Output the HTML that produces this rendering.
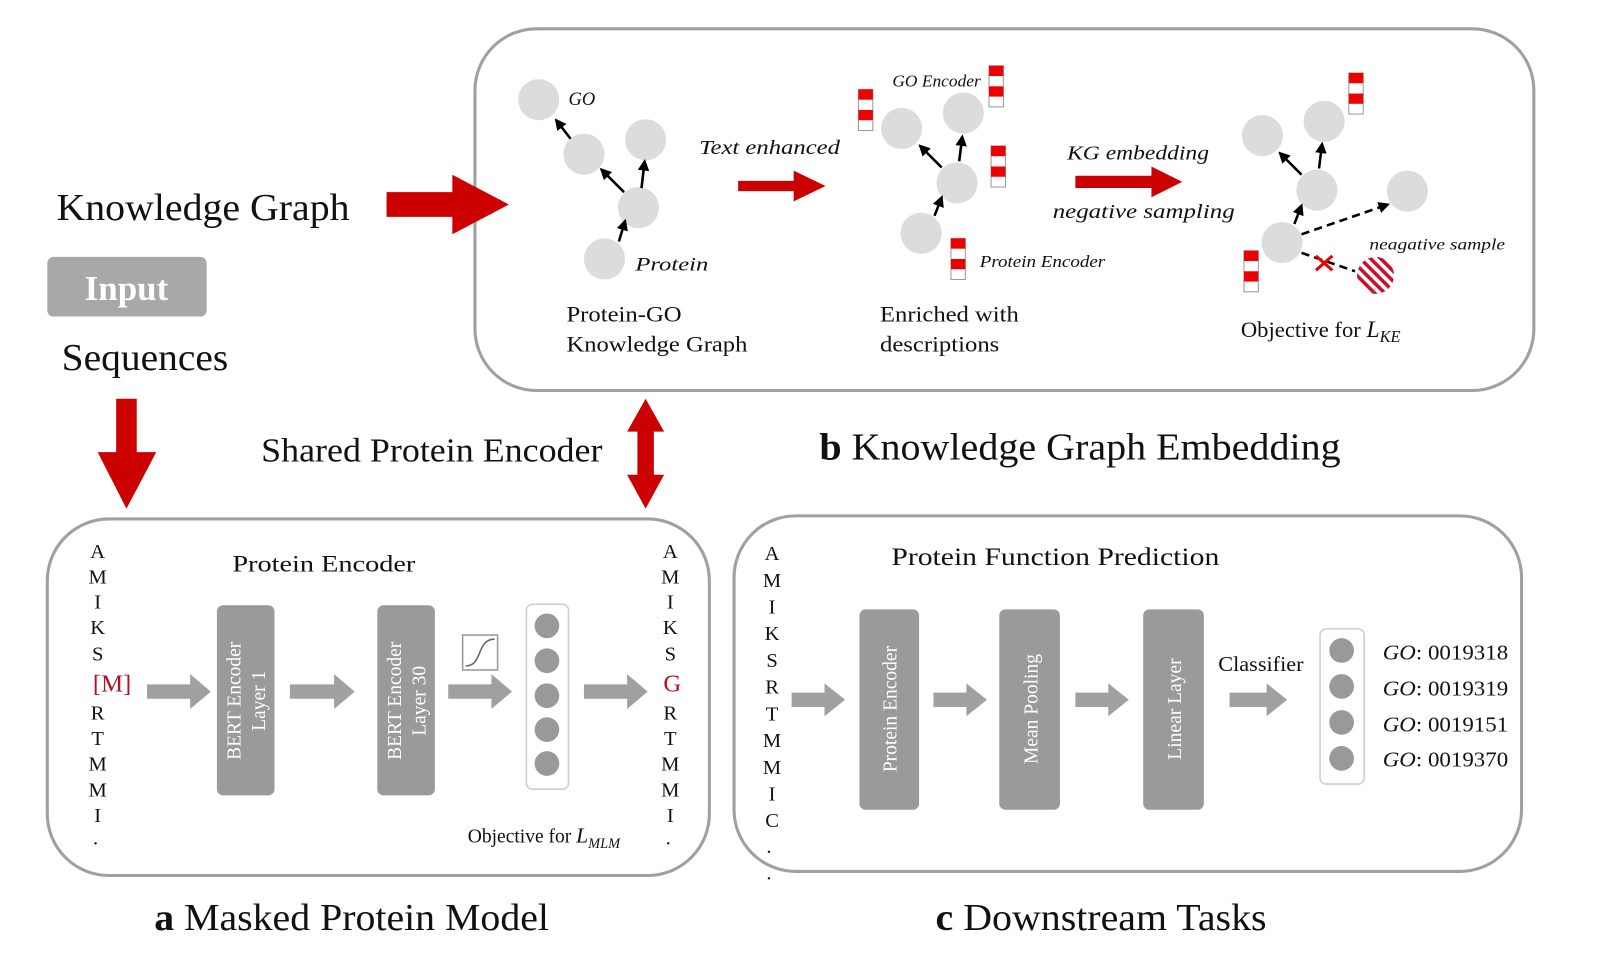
<!DOCTYPE html>
<html><head><meta charset="utf-8"><style>
html,body{margin:0;padding:0;background:#fff;width:1612px;height:968px;overflow:hidden}
svg{display:block}
text{font-family:"Liberation Serif",serif;fill:#111}
.it{font-style:italic}
.seq{font-size:20px;text-anchor:middle}
.w{fill:#fff;font-size:19px;text-anchor:middle}
</style></head><body>
<svg width="1612" height="968" viewBox="0 0 1568 942" preserveAspectRatio="none" xmlns="http://www.w3.org/2000/svg">
<defs>
<marker id="ah" viewBox="0 0 10 10" refX="8" refY="5" markerWidth="4.5" markerHeight="4.5" orient="auto"><path d="M0,0L10,5L0,10z" fill="#000"/></marker>
<pattern id="hatch" width="7" height="7" patternUnits="userSpaceOnUse" patternTransform="rotate(-45)"><rect width="7" height="7" fill="#fff"/><rect width="3.5" height="7" fill="#c8102e"/></pattern>
<g id="bar"><rect x="0" y="0" width="14" height="40" fill="#fff" stroke="#999" stroke-width="1"/><rect x="0" y="0" width="14" height="10" fill="#e00"/><rect x="0" y="20" width="14" height="10" fill="#e00"/></g>
</defs>

<rect x="462" y="28" width="1030" height="352" rx="60" fill="#fff" stroke="#a0a0a0" stroke-width="3"/>
<rect x="46" y="505" width="644" height="347" rx="60" fill="#fff" stroke="#a0a0a0" stroke-width="3"/>
<rect x="714" y="502" width="766" height="346" rx="60" fill="#fff" stroke="#a0a0a0" stroke-width="3"/>

<text x="55" y="214" font-size="37" textLength="285" lengthAdjust="spacingAndGlyphs">Knowledge Graph</text>
<path d="M376,187H440V170L495,199L440,228V211H376z" fill="#c00"/>
<rect x="46" y="250" width="155" height="58" rx="6" fill="#a8a8a8"/>
<text x="123" y="292" font-size="34" font-weight="bold" text-anchor="middle" style="fill:#fff">Input</text>
<text x="60" y="360" font-size="37" textLength="162" lengthAdjust="spacingAndGlyphs">Sequences</text>
<path d="M113,388H133V440H152L123,495L95,440H113z" fill="#c00"/>
<text x="254" y="449" font-size="33" textLength="332" lengthAdjust="spacingAndGlyphs">Shared Protein Encoder</text>
<path d="M628,388L646,420H636V462H646L628,495L610,462H620V420H610z" fill="#c00"/>
<text x="797" y="447" font-size="37" textLength="507" lengthAdjust="spacingAndGlyphs"><tspan font-weight="bold">b</tspan> Knowledge Graph Embedding</text>
<text x="150" y="905" font-size="37" textLength="384" lengthAdjust="spacingAndGlyphs"><tspan font-weight="bold">a</tspan> Masked Protein Model</text>
<text x="910" y="905" font-size="37" textLength="322" lengthAdjust="spacingAndGlyphs"><tspan font-weight="bold">c</tspan> Downstream Tasks</text>

<g fill="#dcdcdc">
<circle cx="524" cy="97" r="20"/><circle cx="568" cy="150" r="20"/><circle cx="628" cy="136" r="20"/><circle cx="621" cy="202" r="20"/><circle cx="588" cy="252" r="20"/>
</g>
<g stroke="#000" stroke-width="2.5" marker-end="url(#ah)">
<line x1="555" y1="135" x2="541" y2="117"/><line x1="607" y1="187" x2="585" y2="165"/><line x1="624" y1="183" x2="627" y2="157"/><line x1="602" y1="235" x2="608" y2="215"/>
</g>
<text x="553" y="102" font-size="18" class="it" textLength="26" lengthAdjust="spacingAndGlyphs">GO</text>
<text x="618" y="263" font-size="18" class="it" textLength="71" lengthAdjust="spacingAndGlyphs">Protein</text>
<text x="551" y="313" font-size="22" textLength="112" lengthAdjust="spacingAndGlyphs">Protein-GO</text>
<text x="551" y="342" font-size="22" textLength="176" lengthAdjust="spacingAndGlyphs">Knowledge Graph</text>
<text x="680" y="150" font-size="19" class="it" textLength="137" lengthAdjust="spacingAndGlyphs">Text enhanced</text>
<path d="M718,176H772V166L803,181L772,196V186H718z" fill="#c00"/>

<g fill="#dcdcdc">
<circle cx="877" cy="125" r="20"/><circle cx="937" cy="110" r="20"/><circle cx="931" cy="178" r="20"/><circle cx="896" cy="227" r="20"/>
</g>
<g stroke="#000" stroke-width="2.5" marker-end="url(#ah)">
<line x1="916" y1="163" x2="895" y2="142"/><line x1="933" y1="157" x2="936" y2="133"/><line x1="909" y1="210" x2="916" y2="192"/>
</g>
<use href="#bar" x="835" y="87"/><use href="#bar" x="962" y="64"/><use href="#bar" x="964" y="142"/><use href="#bar" x="925" y="232"/>
<text x="868" y="84" font-size="16" class="it" textLength="86" lengthAdjust="spacingAndGlyphs">GO Encoder</text>
<text x="953" y="260" font-size="16" class="it" textLength="122" lengthAdjust="spacingAndGlyphs">Protein Encoder</text>
<text x="856" y="313" font-size="22" textLength="135" lengthAdjust="spacingAndGlyphs">Enriched with</text>
<text x="856" y="342" font-size="22" textLength="116" lengthAdjust="spacingAndGlyphs">descriptions</text>
<text x="1038" y="155" font-size="19" class="it" textLength="138" lengthAdjust="spacingAndGlyphs">KG embedding</text>
<path d="M1046,171H1120V162L1150,177L1120,192V183H1046z" fill="#c00"/>
<text x="1024" y="212" font-size="19" class="it" textLength="177" lengthAdjust="spacingAndGlyphs">negative sampling</text>

<g fill="#dcdcdc">
<circle cx="1228" cy="132" r="20"/><circle cx="1288" cy="118" r="20"/><circle cx="1281" cy="185" r="20"/><circle cx="1247" cy="236" r="20"/><circle cx="1369" cy="186" r="20"/>
</g>
<g stroke="#000" stroke-width="2.5" marker-end="url(#ah)">
<line x1="1266" y1="170" x2="1245" y2="149"/><line x1="1283" y1="164" x2="1286" y2="140"/><line x1="1259" y1="218" x2="1266" y2="200"/>
</g>
<line x1="1266" y1="228" x2="1350" y2="199" stroke="#000" stroke-width="2.5" stroke-dasharray="8,5" marker-end="url(#ah)"/>
<line x1="1266" y1="246" x2="1318" y2="264" stroke="#000" stroke-width="2.5" stroke-dasharray="8,5"/>
<path d="M1280,249L1296,263M1296,249L1280,263" stroke="#e00" stroke-width="3"/>
<circle cx="1338" cy="268" r="18" fill="url(#hatch)"/>
<use href="#bar" x="1312" y="71"/><use href="#bar" x="1210" y="244"/>
<text x="1332" y="243" font-size="15" class="it" textLength="132" lengthAdjust="spacingAndGlyphs">neagative sample</text>
<text x="1207" y="328" font-size="22">Objective for <tspan class="it" font-size="23">L</tspan><tspan class="it" font-size="16" dy="5">KE</tspan></text>

<g class="seq">
<text x="95" y="543">A</text><text x="95" y="568">M</text><text x="95" y="592">I</text><text x="95" y="617">K</text><text x="95" y="643">S</text>
<text x="109" y="673" font-size="24" style="fill:#b01020">[M]</text>
<text x="95" y="700">R</text><text x="95" y="725">T</text><text x="95" y="750">M</text><text x="95" y="775">M</text><text x="95" y="800">I</text><text x="93" y="822">.</text>
<text x="652" y="543">A</text><text x="652" y="568">M</text><text x="652" y="592">I</text><text x="652" y="617">K</text><text x="652" y="643">S</text>
<text x="654" y="673" font-size="24" style="fill:#b01020">G</text>
<text x="652" y="700">R</text><text x="652" y="725">T</text><text x="652" y="750">M</text><text x="652" y="775">M</text><text x="652" y="800">I</text><text x="650" y="822">.</text>
</g>
<text x="226" y="556" font-size="23" textLength="178" lengthAdjust="spacingAndGlyphs">Protein Encoder</text>
<rect x="211" y="589" width="56" height="185" rx="6" fill="#9a9a9a"/>
<rect x="367" y="589" width="56" height="185" rx="6" fill="#9a9a9a"/>
<text transform="translate(234,682) rotate(-90)" class="w">BERT Encoder</text>
<text transform="translate(258,682) rotate(-90)" class="w">Layer 1</text>
<text transform="translate(390,682) rotate(-90)" class="w">BERT Encoder</text>
<text transform="translate(414,682) rotate(-90)" class="w">Layer 30</text>
<g fill="#a0a0a0">
<path d="M143,666H185V656L205,673L185,690V680H143z"/>
<path d="M282,666H325V656L345,673L325,690V680H282z"/>
<path d="M436,666H478V656L498,673L478,690V680H436z"/>
<path d="M568,666H610V656L630,673L610,690V680H568z"/>
<path d="M1046,674H1078V665L1098,681L1078,697V688H1046z"/>
<path d="M770,674H802V665L822,681L802,697V688H770z"/>
<path d="M908,674H940V665L960,681L940,697V688H908z"/>
<path d="M1196,674H1232V665L1252,681L1232,697V688H1196z"/>
</g>
<rect x="450" y="618" width="34" height="34" fill="#fff" stroke="#999" stroke-width="1.5"/>
<path d="M453,648C470,648 463,622 481,622" stroke="#666" stroke-width="1.5" fill="none"/>
<rect x="512" y="588" width="41" height="180" rx="6" fill="#fff" stroke="#ccc" stroke-width="1.5"/>
<g fill="#999"><circle cx="532" cy="609" r="12"/><circle cx="532" cy="643" r="12"/><circle cx="532" cy="677" r="12"/><circle cx="532" cy="710" r="12"/><circle cx="532" cy="743" r="12"/></g>
<text x="455" y="820" font-size="19">Objective for <tspan class="it" font-size="21">L</tspan><tspan class="it" font-size="14" dy="5">MLM</tspan></text>

<g class="seq">
<text x="751" y="545">A</text><text x="751" y="571">M</text><text x="751" y="597">I</text><text x="751" y="623">K</text><text x="751" y="649">S</text><text x="751" y="675">R</text><text x="751" y="701">T</text><text x="751" y="727">M</text><text x="751" y="753">M</text><text x="751" y="779">I</text><text x="751" y="805">C</text><text x="748" y="830">.</text><text x="748" y="856">.</text>
</g>
<text x="867" y="550" font-size="25" textLength="319" lengthAdjust="spacingAndGlyphs">Protein Function Prediction</text>
<rect x="836" y="593" width="58" height="195" rx="6" fill="#9a9a9a"/>
<rect x="972" y="593" width="59" height="195" rx="6" fill="#9a9a9a"/>
<rect x="1112" y="593" width="59" height="195" rx="6" fill="#9a9a9a"/>
<text transform="translate(872,690) rotate(-90)" class="w">Protein Encoder</text>
<text transform="translate(1009,690) rotate(-90)" class="w">Mean Pooling</text>
<text transform="translate(1149,690) rotate(-90)" class="w">Linear Layer</text>
<text x="1185" y="653" font-size="21" textLength="83" lengthAdjust="spacingAndGlyphs">Classifier</text>
<rect x="1284" y="612" width="43" height="151" rx="6" fill="#fff" stroke="#ccc" stroke-width="1.5"/>
<g fill="#999"><circle cx="1305" cy="633" r="12"/><circle cx="1305" cy="668" r="12"/><circle cx="1305" cy="703" r="12"/><circle cx="1305" cy="738" r="12"/></g>
<g font-size="21">
<text x="1345" y="642" textLength="122" lengthAdjust="spacingAndGlyphs"><tspan class="it">GO</tspan>: 0019318</text>
<text x="1345" y="677" textLength="122" lengthAdjust="spacingAndGlyphs"><tspan class="it">GO</tspan>: 0019319</text>
<text x="1345" y="712" textLength="122" lengthAdjust="spacingAndGlyphs"><tspan class="it">GO</tspan>: 0019151</text>
<text x="1345" y="746" textLength="122" lengthAdjust="spacingAndGlyphs"><tspan class="it">GO</tspan>: 0019370</text>
</g>
</svg>
</body></html>
